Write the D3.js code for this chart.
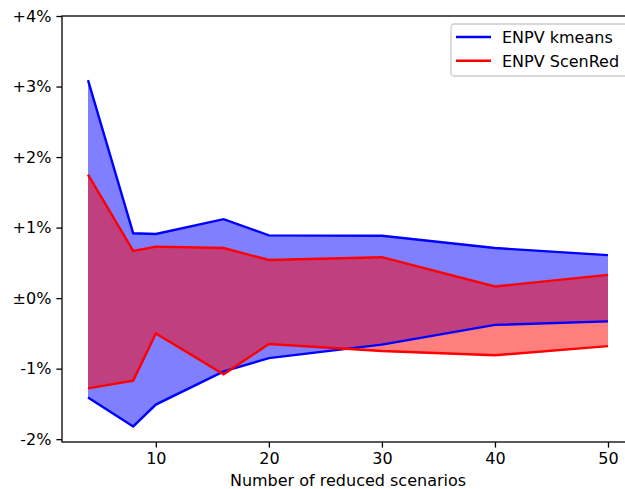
<!DOCTYPE html>
<html>
<head>
<meta charset="utf-8">
<script src="https://cdnjs.cloudflare.com/ajax/libs/d3/7.8.5/d3.min.js"></script>
<style>
    body { margin: 0; background: #fff; }
    svg text { font-family: "DejaVu Sans", sans-serif; fill: #000; }
</style>
</head>
<body>
<div id="chart"></div>
<script>
// number of reduced scenarios
var scenarios = [4, 8, 10, 16, 20, 30, 40, 50];

// deviation bands in percent
var kmeansUpper = [3.09, 0.92, 0.91, 1.12, 0.89, 0.885, 0.71, 0.61];
var kmeansLower = [-1.41, -1.82, -1.51, -1.04, -0.85, -0.66, -0.38, -0.33];
var scenRedUpper = [1.75, 0.67, 0.73, 0.71, 0.54, 0.58, 0.165, 0.33];
var scenRedLower = [-1.28, -1.17, -0.50, -1.08, -0.65, -0.75, -0.81, -0.68];

var xTicks = [10, 20, 30, 40, 50];
var yTicks = [-2, -1, 0, 1, 2, 3, 4];
var legendLabels = ['ENPV kmeans', 'ENPV ScenRed'];

var width = 625, height = 489;
var margin = {left: 62, top: 16, right: 634, bottom: 442};
var fontSize = '16px';

var svg = d3.select('#chart').append('svg')
    .attr('width', width)
    .attr('height', height);

var x = d3.scaleLinear().domain([1.7, 52.3]).range([margin.left, margin.right]);
var y = d3.scaleLinear().domain([-2.04, 4]).range([margin.bottom, margin.top]);

function band(upper, lower) {
    return d3.area()
        .x(function (d, i) { return x(scenarios[i]); })
        .y0(function (d, i) { return y(lower[i]); })
        .y1(function (d, i) { return y(upper[i]); })(upper);
}

var line = d3.line()
    .x(function (d, i) { return x(scenarios[i]); })
    .y(function (d) { return y(d); });

var plot = svg.append('g');

plot.append('path').attr('d', band(kmeansUpper, kmeansLower))
    .attr('fill', 'blue').attr('fill-opacity', 0.5);
plot.append('path').attr('d', band(scenRedUpper, scenRedLower))
    .attr('fill', 'red').attr('fill-opacity', 0.5);

[kmeansUpper, kmeansLower].forEach(function (s) {
    plot.append('path').attr('d', line(s))
        .attr('fill', 'none').attr('stroke', 'blue').attr('stroke-width', 2.4);
});
[scenRedUpper, scenRedLower].forEach(function (s) {
    plot.append('path').attr('d', line(s))
        .attr('fill', 'none').attr('stroke', 'red').attr('stroke-width', 2.4);
});

// axes
var xAxis = d3.axisBottom(x).tickValues(xTicks).tickSize(5.6).tickPadding(5);
var yAxis = d3.axisLeft(y).tickValues(yTicks).tickSize(5.6).tickPadding(5)
    .tickFormat(function (d) {
        if (d === 0) return '\u00b10%';
        return (d > 0 ? '+' : '') + d + '%';
    });

var gx = svg.append('g').attr('transform', 'translate(0,' + margin.bottom + ')').call(xAxis);
var gy = svg.append('g').attr('transform', 'translate(' + margin.left + ',0)').call(yAxis);

[gx, gy].forEach(function (g) {
    g.select('.domain').remove();
    g.selectAll('.tick line').attr('stroke', '#000').attr('stroke-width', 1.3);
    g.selectAll('.tick text').attr('font-size', fontSize)
        .style('font-family', '"DejaVu Sans", sans-serif');
});

// spines
svg.append('rect')
    .attr('x', margin.left).attr('y', margin.top)
    .attr('width', margin.right - margin.left)
    .attr('height', margin.bottom - margin.top)
    .attr('fill', 'none').attr('stroke', '#000').attr('stroke-width', 1.3);

svg.append('text')
    .attr('x', (margin.left + margin.right) / 2)
    .attr('y', 486)
    .attr('text-anchor', 'middle')
    .attr('font-size', fontSize)
    .text('Number of reduced scenarios');

// legend
var legend = svg.append('g').attr('transform', 'translate(451,24)');
legend.append('rect')
    .attr('width', 178).attr('height', 52)
    .attr('rx', 3).attr('ry', 3)
    .attr('fill', '#fff').attr('fill-opacity', 0.8)
    .attr('stroke', '#ccc').attr('stroke-width', 1.3);

var colors = ['blue', 'red'];
legendLabels.forEach(function (label, i) {
    var ly = 13 + i * 23.7;
    legend.append('line')
        .attr('x1', 5).attr('x2', 40)
        .attr('y1', ly).attr('y2', ly)
        .attr('stroke', colors[i]).attr('stroke-width', 2.4);
    legend.append('text')
        .attr('x', 51).attr('y', ly + 6)
        .attr('font-size', fontSize)
        .text(label);
});
</script>
</body>
</html>
